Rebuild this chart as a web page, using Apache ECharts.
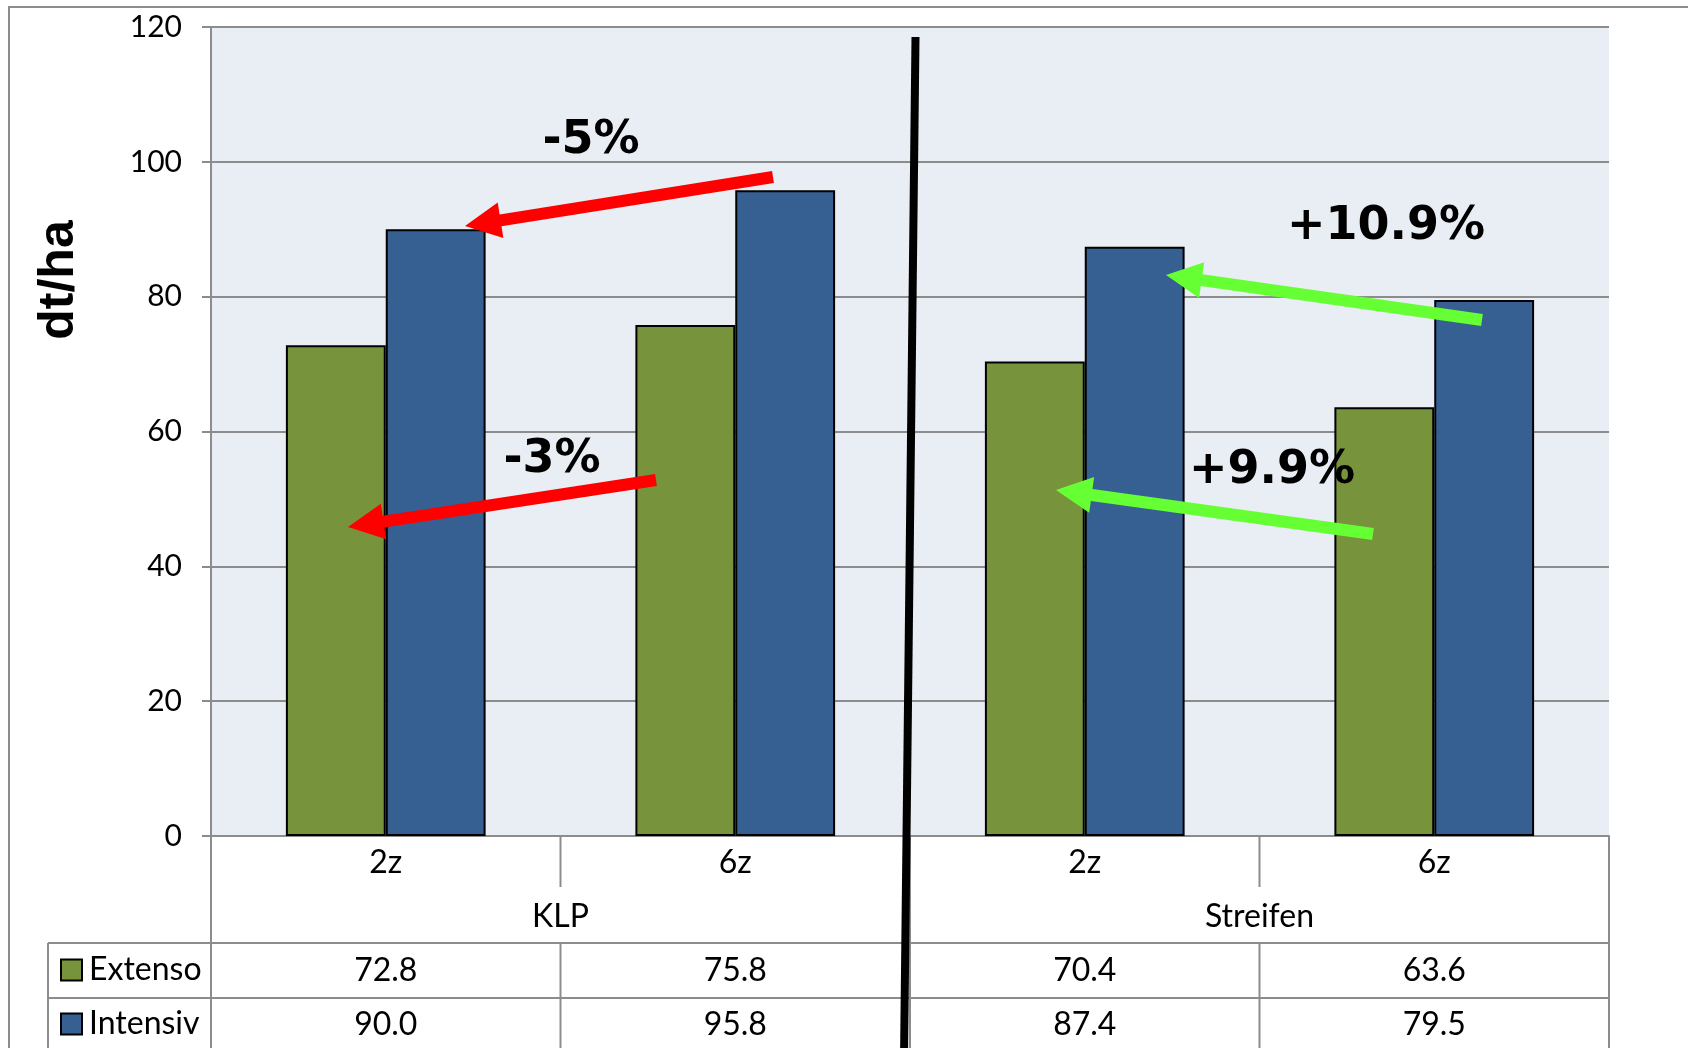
<!DOCTYPE html>
<html>
<head>
<meta charset="utf-8">
<script src="https://cdn.jsdelivr.net/npm/echarts@6/dist/echarts.min.js"></script>
<style>
html,body{margin:0;padding:0;background:#fff;}
#c{width:1688px;height:1048px;}
</style>
</head>
<body>
<div id="c"></div>
<script>
// ---- data ----
const categories = ['2z', '6z', '2z', '6z'];
const groups = ['KLP', 'Streifen'];
const extenso = [72.8, 75.8, 70.4, 63.6];
const intensiv = [90.0, 95.8, 87.4, 79.5];
const seriesNames = ['Extenso', 'Intensiv'];
const yTicks = { min: 0, max: 120, interval: 20 };
const yTitle = 'dt/ha';
// annotation texts
const notes = ['-5%', '-3%', '+10.9%', '+9.9%'];

// ---- layout ----
const L = 211, T = 27, R = 1609, B = 836;
const GRAY = '#8c8c8c';
const FONT = 'Lato';
const FS = 32;

const chart = echarts.init(document.getElementById('c'));

function line(x1, y1, x2, y2, w, c, z) {
  return { type: 'line', shape: { x1, y1, x2, y2 }, style: { stroke: c || GRAY, lineWidth: w || 2 }, z: z || 5, silent: true };
}
function arrow(tail, tip, color) {
  const dx = tip[0] - tail[0], dy = tip[1] - tail[1];
  const len = Math.sqrt(dx * dx + dy * dy);
  const ux = dx / len, uy = dy / len, px = -uy, py = ux;
  const hl = 36, hw = 18, sw = 6;
  const bx = tip[0] - ux * hl, by = tip[1] - uy * hl;
  const pts = [
    [tail[0] + px * sw, tail[1] + py * sw],
    [bx + px * sw, by + py * sw],
    [bx + px * hw, by + py * hw],
    tip,
    [bx - px * hw, by - py * hw],
    [bx - px * sw, by - py * sw],
    [tail[0] - px * sw, tail[1] - py * sw]
  ];
  return { type: 'polygon', shape: { points: pts }, style: { fill: color }, z: 20, silent: true };
}
function note(text, x, y) {
  return { type: 'text', x, y, style: { text, fill: '#000', font: 'bold 46px "DejaVu Sans"', align: 'center', verticalAlign: 'middle' }, z: 21, silent: true };
}

const colW = (R - L) / categories.length;
const graphics = [];
graphics.push({ type: 'rect', shape: { x: 9, y: 7, width: 1700, height: 1100 }, style: { fill: 'none', stroke: GRAY, lineWidth: 2 }, z: 0, silent: true });
graphics.push(line(L, B, L, 1050));
for (let i = 1; i <= categories.length; i++) {
  const x = L + i * colW;
  if (i % 2 === 0) graphics.push(line(x, B, x, 1050));
  else { graphics.push(line(x, B, x, 887)); graphics.push(line(x, 943, x, 1050)); }
}
graphics.push(line(48, 943, R, 943));
graphics.push(line(48, 998, R, 998));
graphics.push(line(48, 943, 48, 1050));
// y axis title
graphics.push({ type: 'text', x: 59, y: 280, rotation: Math.PI / 2,
  style: { text: yTitle, fill: '#000', font: 'bold 50px "Liberation Sans"', align: 'center', verticalAlign: 'middle' }, z: 10, silent: true });
// annotations
graphics.push(arrow([773, 177], [465, 226], '#ff0000'));
graphics.push(arrow([656, 480], [348, 527], '#ff0000'));
graphics.push(arrow([1482, 320], [1166, 275], '#66ff33'));
graphics.push(arrow([1373, 534], [1056, 490], '#66ff33'));
graphics.push(note(notes[0], 591, 141));
graphics.push(note(notes[1], 552, 460));
graphics.push(note(notes[2], 1386, 227));
graphics.push(note(notes[3], 1272, 471));
graphics.push({ type: 'line', shape: { x1: 915.5, y1: 37, x2: 904, y2: 1060 }, style: { stroke: '#000', lineWidth: 8, lineCap: 'butt' }, z: 30, silent: true });

function labelAxis(data, margin) {
  return {
    type: 'category', data, position: 'bottom', gridIndex: 0,
    axisLine: { show: false }, axisTick: { show: false }, splitLine: { show: false },
    axisLabel: { interval: 0, margin, verticalAlign: 'middle', color: '#000', fontFamily: FONT, fontSize: FS }
  };
}
function legendItem(name, top) {
  return {
    orient: 'vertical', left: 60, top, itemWidth: 21, itemHeight: 21,
    icon: 'rect', selectedMode: false, padding: 0,
    textStyle: { fontFamily: FONT, fontSize: FS, color: '#000', padding: [0, 0, 0, 2] },
    data: [name]
  };
}

const option = {
  animation: false,
  backgroundColor: '#fff',
  textStyle: { fontFamily: FONT },
  grid: { left: L, top: T, width: R - L, height: B - T, show: true, backgroundColor: '#e9edf4', borderWidth: 0 },
  legend: [legendItem(seriesNames[0], 954), legendItem(seriesNames[1], 1008)],
  xAxis: [
    {
      type: 'category', data: categories, position: 'bottom',
      axisLine: { show: true, lineStyle: { color: GRAY, width: 2 } },
      axisTick: { show: false },
      axisLabel: { interval: 0, margin: 27, verticalAlign: 'middle', color: '#000', fontFamily: FONT, fontSize: FS }
    },
    labelAxis(groups, 81),
    labelAxis(extenso.map(v => v.toFixed(1)), 135),
    labelAxis(intensiv.map(v => v.toFixed(1)), 189)
  ],
  yAxis: {
    type: 'value', min: yTicks.min, max: yTicks.max, interval: yTicks.interval,
    axisLine: { show: true, lineStyle: { color: GRAY, width: 2 } },
    axisTick: { show: true, length: 9, lineStyle: { color: GRAY, width: 2 } },
    axisLabel: { margin: 29, color: '#000', fontFamily: FONT, fontSize: 30 },
    splitLine: { show: true, lineStyle: { color: GRAY, width: 2 } }
  },
  series: [
    {
      name: seriesNames[0], type: 'bar', data: extenso, xAxisIndex: 0,
      barGap: '0%', barCategoryGap: '42.86%',
      itemStyle: { color: '#77933c', borderColor: '#000', borderWidth: 2 }
    },
    {
      name: seriesNames[1], type: 'bar', data: intensiv, xAxisIndex: 0,
      barGap: '0%', barCategoryGap: '42.86%',
      itemStyle: { color: '#376092', borderColor: '#000', borderWidth: 2 }
    }
  ],
  graphic: graphics
};
chart.setOption(option);
</script>
</body>
</html>
